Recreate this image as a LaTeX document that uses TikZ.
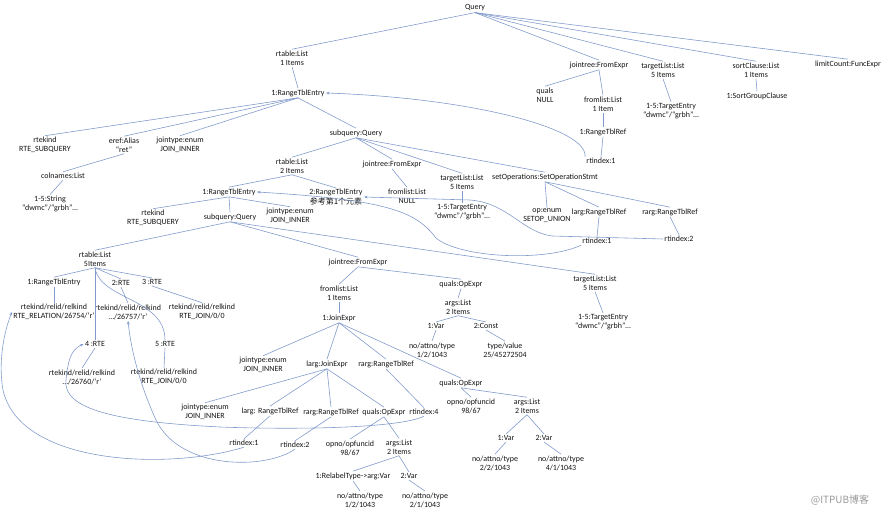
\documentclass[tikz,border=0pt]{standalone}
\usepackage{fontspec}
\setmainfont{Carlito}
\newfontfamily\cjk{Noto Sans CJK SC}
\usetikzlibrary{arrows.meta}
\definecolor{linkblue}{RGB}{128,153,203}
\definecolor{txtgray}{RGB}{20,20,20}
\tikzset{
	lbl/.style={inner sep=1pt, align=center, text=txtgray, font=\fontsize{6.8}{7.8}\selectfont},
	link/.style={draw=linkblue, line width=0.5pt},
	ref/.style={link, -{Stealth[length=3pt,width=2.4pt]}}
}

\begin{document}
\begin{tikzpicture}[x=0.03cm, y=-0.03cm]
	\useasboundingbox (0,0) rectangle (890,515);

	% top query
	\node[lbl] (q) at (475,8) {Query};
	\node[lbl] (rtA) at (292,58) {rtable:List\\1 Items};
	\node[lbl] (jtA) at (599,65) {jointree:FromExpr};
	\node[lbl] (qlA) at (545,95) {quals\\NULL};
	\node[lbl] (flA) at (603,104) {fromlist:List\\1 Item};
	\node[lbl] (rrA) at (603,132) {1:RangeTblRef};
	\node[lbl] (riA) at (601,161) {rtindex:1};
	\node[lbl] (tlA) at (663,70) {targetList:List\\5 Items};
	\node[lbl] (teA) at (671,111) {1-5:TargetEntry\\“dwmc”/“grbh”…};
	\node[lbl] (sc) at (756,70) {sortClause:List\\1 Items};
	\node[lbl] (sgc) at (757,96) {1:SortGroupClause};
	\node[lbl] (lc) at (848,64) {limitCount:FuncExpr};

	% first range table entry
	\node[lbl] (rteA) at (298,93) {1:RangeTblEntry};
	\node[lbl] (rkA) at (45,145) {rtekind\\RTE\_SUBQUERY};
	\node[lbl] (er) at (124,145) {eref:Alias\\“ret”};
	\node[lbl] (jyA) at (180,145) {jointype:enum\\JOIN\_INNER};
	\node[lbl] (cn) at (63,176) {colnames:List};
	\node[lbl] (st) at (50,204) {1-5:String\\“dwmc”/“grbh”…};
	\node[lbl] (sqA) at (356,133) {subquery:Query};

	% union subquery
	\node[lbl] (rtB) at (292,166) {rtable:List\\2 Items};
	\node[lbl] (jtB) at (392,164) {jointree:FromExpr};
	\node[lbl] (flB) at (407,196) {fromlist:List\\NULL};
	\node[lbl] (tlB) at (462,182) {targetList:List\\5 Items};
	\node[lbl] (teB) at (462,212) {1-5:TargetEntry\\“dwmc”/“grbh”…};
	\node[lbl] (so) at (545,177) {setOperations:SetOperationStmt};
	\node[lbl] (op) at (547,216) {op:enum\\SETOP\_UNION};
	\node[lbl] (lgB) at (599,212) {larg:RangeTblRef};
	\node[lbl] (rgB) at (670,212) {rarg:RangeTblRef};
	\node[lbl] (riB1) at (597,241) {rtindex:1};
	\node[lbl] (riB2) at (679,239) {rtindex:2};
	\node[lbl] (rteB1) at (229,192) {1:RangeTblEntry};
	\node[lbl] (rteB2) at (336,197) {2:RangeTblEntry\\{\cjk 参考第1个元素}};
	\node[lbl] (rkB) at (153,218) {rtekind\\RTE\_SUBQUERY};
	\node[lbl] (sqB) at (230,217) {subquery:Query};
	\node[lbl] (jyB) at (290,216) {jointype:enum\\JOIN\_INNER};

	% inner subquery
	\node[lbl] (rtC) at (95,259) {rtable:List\\5Items};
	\node[lbl] (rteC1) at (54,282) {1:RangeTblEntry};
	\node[lbl] (rteC2) at (121,283) {2:RTE};
	\node[lbl] (rteC3) at (152,282) {3 :RTE};
	\node[lbl] (rteC4) at (95,344) {4 :RTE};
	\node[lbl] (rteC5) at (165,344) {5 :RTE};
	\node[lbl] (kdC1) at (54,312) {rtekind/relid/relkind\\RTE\_RELATION/26754/‘r’};
	\node[lbl] (kdC2) at (128,312) {rtekind/relid/relkind\\…/26757/‘r’};
	\node[lbl] (kdC3) at (202,312) {rtekind/relid/relkind\\RTE\_JOIN/0/0};
	\node[lbl] (kdC4) at (82,377) {rtekind/relid/relkind\\…/26760/‘r’};
	\node[lbl] (kdC5) at (164,377) {rtekind/relid/relkind\\RTE\_JOIN/0/0};
	\node[lbl] (jtC) at (358,262) {jointree:FromExpr};
	\node[lbl] (tlC) at (595,283) {targetList:List\\5 Items};
	\node[lbl] (teC) at (603,322) {1-5:TargetEntry\\“dwmc”/“grbh”…};
	\node[lbl] (flC) at (339,293) {fromlist:List\\1 Items};
	\node[lbl] (jeC) at (339,318) {1:JoinExpr};
	\node[lbl] (qlC) at (461,284) {quals:OpExpr};
	\node[lbl] (agC) at (458,307) {args:List\\2 Items};
	\node[lbl] (vC1) at (436,326) {1:Var};
	\node[lbl] (cC2) at (486,326) {2:Const};
	\node[lbl] (naC1) at (432,350) {no/attno/type\\1/2/1043};
	\node[lbl] (tv) at (505,350) {type/value\\25/45272504};

	% join tree
	\node[lbl] (jyD) at (263,365) {jointype:enum\\JOIN\_INNER};
	\node[lbl] (lgD) at (327,364) {larg:JoinExpr};
	\node[lbl] (rgD) at (386,364) {rarg:RangeTblRef};
	\node[lbl] (riD4) at (424,412) {rtindex:4};
	\node[lbl] (qlD) at (461,383) {quals:OpExpr};
	\node[lbl] (opD) at (471,406) {opno/opfuncid\\98/67};
	\node[lbl] (agD) at (527,406) {args:List\\2 Items};
	\node[lbl] (vD1) at (506,438) {1:Var};
	\node[lbl] (vD2) at (544,438) {2:Var};
	\node[lbl] (naD1) at (495,463) {no/attno/type\\2/2/1043};
	\node[lbl] (naD2) at (561,463) {no/attno/type\\4/1/1043};
	\node[lbl] (jyE) at (205,412) {jointype:enum\\JOIN\_INNER};
	\node[lbl] (lgE) at (270,411) {larg: RangeTblRef};
	\node[lbl] (rgE) at (331,412) {rarg:RangeTblRef};
	\node[lbl] (qlE) at (384,412) {quals:OpExpr};
	\node[lbl] (riE1) at (244,443) {rtindex:1};
	\node[lbl] (riE2) at (295,445) {rtindex:2};
	\node[lbl] (opE) at (350,448) {opno/opfuncid\\98/67};
	\node[lbl] (agE) at (399,447) {args:List\\2 Items};
	\node[lbl] (rlE) at (353,476) {1:RelabelType->arg:Var};
	\node[lbl] (vE2) at (409,476) {2:Var};
	\node[lbl] (naE1) at (360,500) {no/attno/type\\1/2/1043};
	\node[lbl] (naE2) at (425,500) {no/attno/type\\2/1/1043};

	\node[inner sep=1pt, text=black!40, font=\cjk\fontsize{8.5}{10}\selectfont] (wm) at (840,500) {@ITPUB博客};

	% tree edges
	\foreach \a/\b in {q/rtA, q/jtA, q/tlA, q/sc, q/lc, jtA/qlA, jtA/flA, flA/rrA, rrA/riA,
		tlA/teA, sc/sgc, rtA/rteA, rteA/rkA, rteA/er, rteA/jyA, rteA/sqA, er/cn, cn/st,
		sqA/rtB, sqA/jtB, sqA/tlB, sqA/so, jtB/flB, tlB/teB, so/op, so/lgB, so/rgB,
		lgB/riB1, rgB/riB2, rtB/rteB1, rtB/rteB2, rteB1/rkB, rteB1/sqB, rteB1/jyB,
		sqB/rtC, sqB/jtC, sqB/tlC, tlC/teC, rtC/rteC1, rtC/rteC2, rtC/rteC3, rtC/rteC4,
		rteC1/kdC1, rteC2/kdC2, rteC3/kdC3, rteC4/kdC4, rteC5/kdC5,
		jtC/flC, jtC/qlC, flC/jeC, qlC/agC, agC/vC1, agC/cC2, vC1/naC1, cC2/tv,
		jeC/jyD, jeC/lgD, jeC/rgD, jeC/qlD, rgD/riD4, qlD/opD, qlD/agD, agD/vD1, agD/vD2,
		vD1/naD1, vD2/naD2, lgD/jyE, lgD/lgE, lgD/rgE, lgD/qlE, lgE/riE1, rgE/riE2,
		qlE/opE, qlE/agE, agE/rlE, agE/vE2, rlE/naE1, vE2/naE2}
		\draw[link] (\a.south) -- (\b.north);
	\draw[link] (rtC.south) .. controls (100,300) and (165,298) .. (rteC5.north);

	% rtindex references
	\draw[ref] (riA.north west) .. controls (588,128) and (470,98) .. (rteA.east);
	\draw[ref] (riB2.west) -- (552,236) .. controls (522,232) and (508,203) .. (470,200) -- (rteB2.east);
	\draw[ref] (riB1.south west) .. controls (545,262) and (460,258) .. (436,238) .. controls (416,212) and (390,200) .. (rteB1.east);
	\draw[ref] (riE1.south) .. controls (170,470) and (20,466) .. (3,390) .. controls (-2,362) and (4,332) .. (kdC1.west);
	\draw[ref] (riE2.south) .. controls (265,470) and (180,470) .. (156,420) .. controls (140,385) and (131,350) .. (kdC2.south);
	\draw[ref] (riD4.south) .. controls (400,428) and (300,430) .. (220,427) .. controls (120,422) and (62,410) .. (66,380) .. controls (68,362) and (70,350) .. (rteC4.west);
\end{tikzpicture}
\end{document}
